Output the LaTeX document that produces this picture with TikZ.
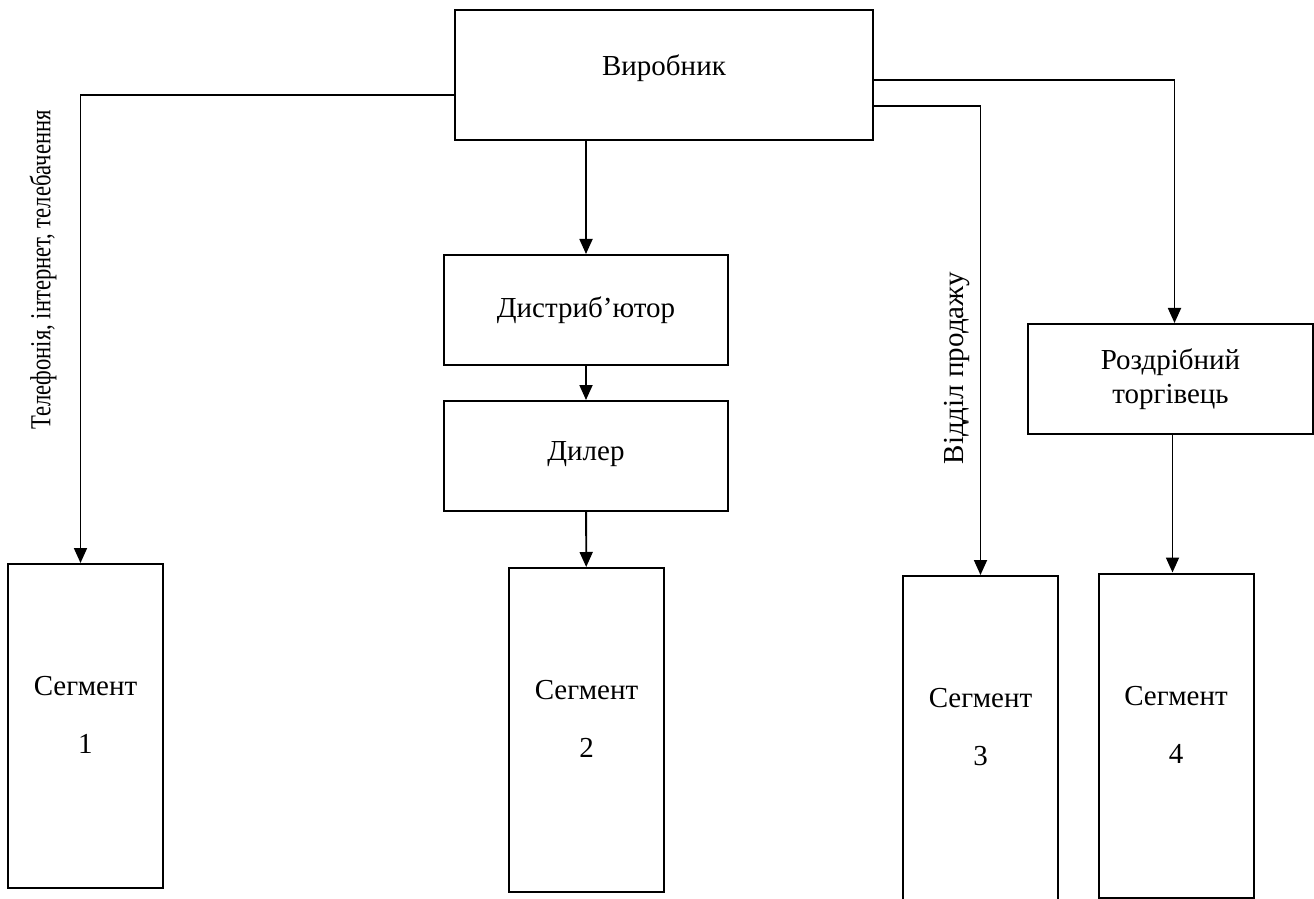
\documentclass[tikz,border=0pt]{standalone}
\usepackage{fontspec}
\setmainfont{Liberation Serif}
\usepackage{tikz}
\usetikzlibrary{arrows.meta, positioning, calc}

\begin{document}
\begin{tikzpicture}[x=0.5pt, y=-0.5pt,
  box/.style={draw, line width=1pt, align=center, font=\fontsize{14.5}{17}\selectfont},
  segbox/.style={box, minimum width=77.5pt, minimum height=162pt, text depth=11pt},
  arr/.style={line width=0.9pt, -{Triangle[length=7.5pt, width=6.5pt]}}]
\useasboundingbox (0,0) rectangle (1314,899);
% boxes
\node[box, minimum width=209pt, minimum height=65pt, text depth=10pt] (prod) at (664,75) {Виробник};
\node[box, minimum width=142pt, minimum height=55pt] (distr) at (586,310) {Дистриб’ютор};
\node[box, minimum width=142pt, minimum height=55pt, text depth=5pt] (dealer) at (586,456) {Дилер};
\node[box, minimum width=142.5pt, minimum height=55pt] (retail) at (1170.5,379) {Роздрібний\\торгівець};
\foreach \n/\x/\y in {1/85.5/726, 2/586.5/730, 3/980.5/738, 4/1176/735.5}
  \node[segbox] (seg\n) at (\x,\y) {Сегмент\\[12pt]\n};
% connectors
\draw[arr] ([yshift=-10pt]prod.west) -| ([xshift=-2.5pt]seg1.north);
\draw[arr] (prod.south -| distr.north) -- (distr.north);
\draw[arr] (distr) -- (dealer);
\draw[arr] (dealer) -- (seg2);
\draw[arr] ([yshift=-15.5pt]prod.east) -| (seg3.north);
\draw[arr] ([yshift=-2.5pt]prod.east) -| ([xshift=2pt]retail.north);
\draw[arr] ([xshift=1pt]retail.south) -- ([xshift=1pt]retail.south |- seg4.north);
% channel labels
\node[rotate=90, font=\fontsize{14.5}{17}\selectfont] (lab1) at (43,270) {\scalebox{0.78}[1]{Телефонія, інтернет, телебачення}};
\node[rotate=90, font=\fontsize{14.5}{17}\selectfont] (lab3) at (957,368) {Відділ продажу};
\end{tikzpicture}
\end{document}
